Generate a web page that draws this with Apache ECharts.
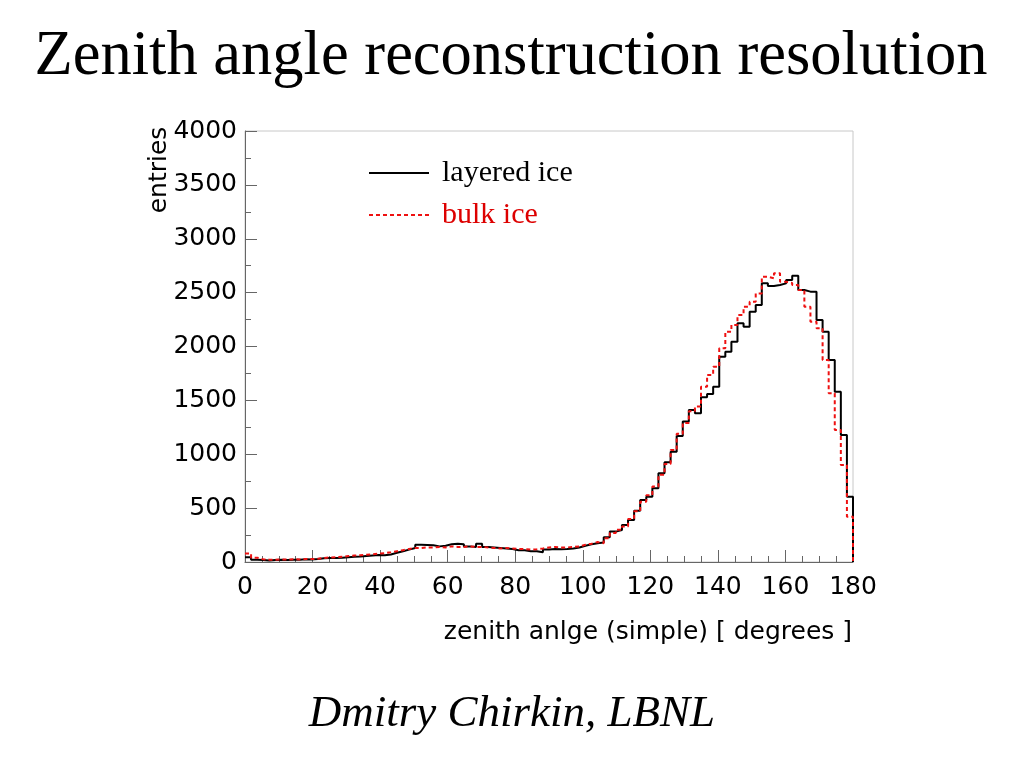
<!DOCTYPE html>
<html>
<head>
<meta charset="utf-8">
<script src="https://cdn.jsdelivr.net/npm/echarts@6/dist/echarts.min.js"></script>
<style>
html,body{margin:0;padding:0;background:#fff;}
#chart{width:1024px;height:768px;}
</style>
</head>
<body>
<div id="chart"></div>
<script>
// Histogram: 100 bins of 1.8 degrees from 0 to 180
const binWidth = 1.8;
const xTicks = [0, 20, 40, 60, 80, 100, 120, 140, 160, 180];
const yTicks = [0, 500, 1000, 1500, 2000, 2500, 3000, 3500, 4000];

const layeredIce = [
  45,
  20, 18, 15, 18, 20, 18, 22, 20, 25, 24,
  28,
  35, 38, 38, 40, 45, 48, 50, 55,
  60, 65, 62, 70,
  85, 100, 115, 130,
  160, 158, 155,
  145, 150,
  165, 170, 165,
  145, 140,
  170, 140,
  135, 130, 125, 120, 110,
  108, 100, 100, 90,
  115, 120, 118,
  120, 125, 135,
  150, 165,
  175, 180,
  230, 282, 297, 343, 390, 475, 575, 606, 684, 823,
  925, 1024, 1170, 1303, 1411, 1380, 1530, 1560, 1627, 1906,
  1952, 2045, 2215, 2184, 2323, 2385, 2586, 2561, 2571, 2586,
  2617, 2657, 2524, 2509, 2509, 2246, 2137, 1875, 1581, 1179,
  606
];

const bulkIce = [
  80,
  40, 25, 22, 20, 24, 22, 25, 24, 28, 27,
  30,
  38, 42, 45, 48, 55, 60, 62, 68,
  72, 78, 82, 90,
  100, 110, 120, 130,
  130, 135, 135,
  140, 135,
  145, 140, 140,
  145, 140,
  140, 135,
  130, 125, 130, 125, 120,
  120, 115, 118, 125,
  135, 140, 135,
  135, 140, 145,
  160, 170,
  185, 175,
  220, 270, 300, 330, 400, 470, 560, 620, 700, 810,
  910, 1040, 1190, 1290, 1400, 1442, 1627, 1736, 1813, 1983,
  2137, 2200, 2292, 2370, 2416, 2493, 2648, 2633, 2680, 2600,
  2590, 2571, 2524, 2370, 2230, 2169, 1875, 1566, 1225, 900,
  421
];

function histPoints(values) {
  const pts = values.map((v, i) => [+(i * binWidth).toFixed(2), v]);
  const last = values[values.length - 1];
  const end = values.length * binWidth;
  pts.push([end, last]);
  pts.push([end, 0]);
  return pts;
}

const sans = 'DejaVu Sans';
const serif = 'Liberation Serif';
const axisGray = '#666';

const chart = echarts.init(document.getElementById('chart'));
chart.setOption({
  animation: false,
  backgroundColor: '#fff',
  grid: {
    left: 245, right: 171, top: 131, bottom: 206,
    show: true, borderColor: '#c8c8c8', borderWidth: 1, backgroundColor: 'transparent'
  },
  legend: {
    orient: 'vertical',
    left: 363, top: 153,
    itemWidth: 60, itemHeight: 14, itemGap: 12,
    itemStyle: { opacity: 0 },
    textStyle: { fontFamily: serif, fontSize: 30, lineHeight: 30, padding: [0, 0, 0, 8] },
    data: [
      { name: 'layered ice', textStyle: { color: '#000' } },
      { name: 'bulk ice', textStyle: { color: '#dd0000' } }
    ]
  },
  xAxis: {
    type: 'value', min: xTicks[0], max: xTicks[xTicks.length - 1], interval: 20,
    axisLine: { show: true, onZero: false, lineStyle: { color: axisGray, width: 1 } },
    axisTick: { show: true, inside: true, length: 12, lineStyle: { color: axisGray } },
    minorTick: { show: true, splitNumber: 4, length: 6, lineStyle: { color: axisGray } },
    splitLine: { show: false },
    axisLabel: { fontFamily: sans, fontSize: 25, color: '#000', margin: 13, formatter: v => String(v) }
  },
  yAxis: {
    type: 'value', min: yTicks[0], max: yTicks[yTicks.length - 1], interval: 500,
    axisLine: { show: true, lineStyle: { color: axisGray, width: 1 } },
    axisTick: { show: true, inside: true, length: 12, lineStyle: { color: axisGray } },
    minorTick: { show: true, splitNumber: 2, length: 6, lineStyle: { color: axisGray } },
    splitLine: { show: false },
    axisLabel: { fontFamily: sans, fontSize: 25, color: '#000', margin: 8, formatter: v => String(v) }
  },
  series: [
    {
      name: 'layered ice', type: 'line', step: 'end', symbol: 'none',
      data: histPoints(layeredIce),
      lineStyle: { color: '#000', width: 2 },
      itemStyle: { color: '#000' }
    },
    {
      name: 'bulk ice', type: 'line', step: 'end', symbol: 'none',
      data: histPoints(bulkIce),
      lineStyle: { color: '#ee1111', width: 2, type: [4, 3] },
      itemStyle: { color: '#ee1111' }
    }
  ],
  graphic: [
    {
      type: 'text', x: 511, y: 58,
      style: { text: 'Zenith angle reconstruction resolution', fontFamily: serif, fontSize: 62.5,
               fill: '#000', align: 'center', verticalAlign: 'middle' }
    },
    {
      type: 'text', x: 512, y: 714,
      style: { text: 'Dmitry Chirkin, LBNL', fontFamily: serif, fontSize: 45, fontStyle: 'italic',
               fill: '#000', align: 'center', verticalAlign: 'middle' }
    },
    {
      type: 'text', x: 852, y: 632,
      style: { text: 'zenith anlge (simple) [ degrees ]', fontFamily: sans, fontSize: 25,
               fill: '#000', align: 'right', verticalAlign: 'middle' }
    },
    {
      type: 'text', x: 159, y: 170, rotation: Math.PI / 2,
      style: { text: 'entries', fontFamily: sans, fontSize: 25,
               fill: '#000', align: 'center', verticalAlign: 'middle' }
    }
  ]
});
</script>
</body>
</html>
